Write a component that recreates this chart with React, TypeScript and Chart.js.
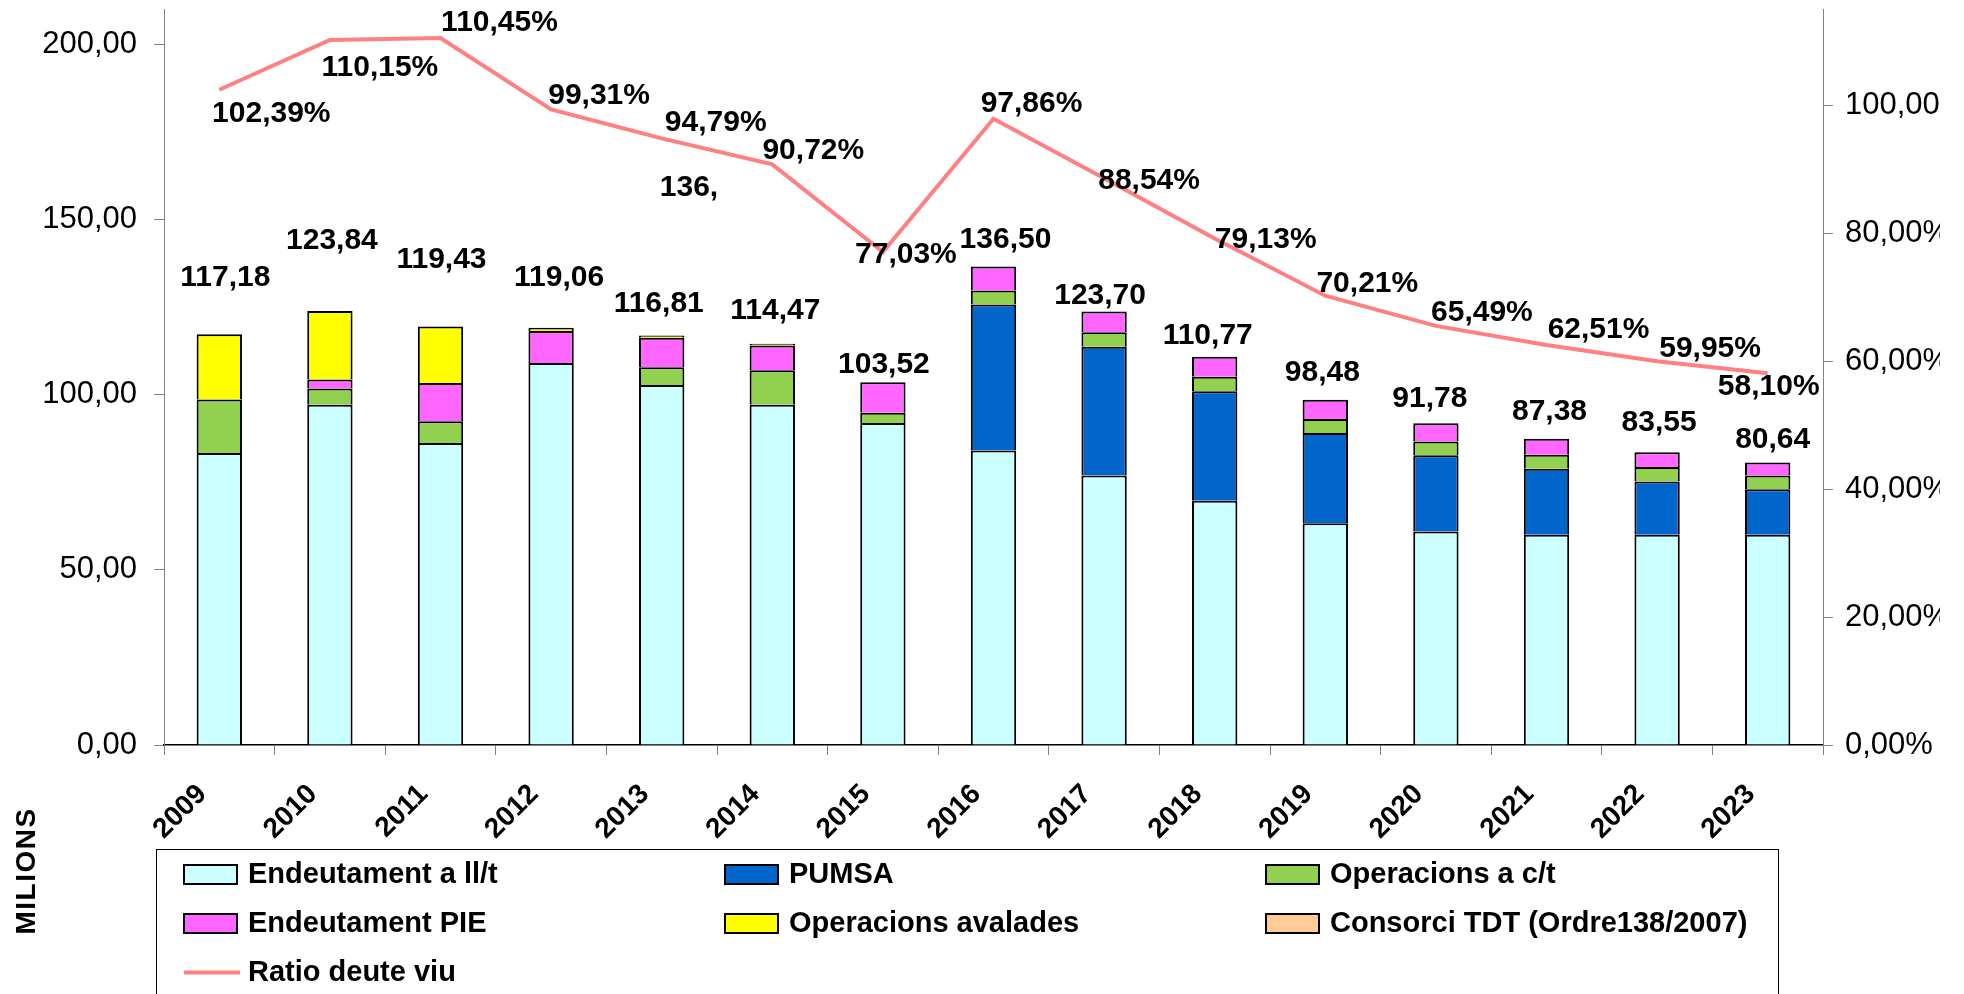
import React, { useEffect, useRef } from 'react';
import { Chart, registerables } from 'chart.js';

Chart.register(...registerables);

// ---------- data ----------
const years = ['2009', '2010', '2011', '2012', '2013', '2014', '2015', '2016', '2017', '2018', '2019', '2020', '2021', '2022', '2023'];
const endeutamentLlt = [83.3, 97.1, 86.2, 109.0, 102.7, 97.1, 91.9, 84.0, 76.9, 69.7, 63.3, 60.9, 60.0, 60.0, 60.0];
const pumsa = [0, 0, 0, 0, 0, 0, 0, 41.7, 36.7, 31.2, 25.7, 21.8, 18.8, 15.2, 13.0];
const operacionsCt = [15.3, 4.6, 6.2, 0, 5.1, 9.8, 2.9, 4.0, 4.2, 4.2, 4.0, 3.9, 4.0, 4.1, 3.9];
const endeutamentPie = [0, 2.6, 10.9, 9.1, 8.4, 7.1, 8.72, 6.8, 5.9, 5.67, 5.48, 5.18, 4.58, 4.25, 3.74];
const operacionsAvalades = [18.58, 19.54, 16.13, 0.96, 0.61, 0.47, 0, 0, 0, 0, 0, 0, 0, 0, 0];
const consorciTdt = [0, 0, 0, 0, 0, 0, 0, 0, 0, 0, 0, 0, 0, 0, 0];
const totals = [117.18, 123.84, 119.43, 119.06, 116.81, 114.47, 103.52, 136.5, 123.7, 110.77, 98.48, 91.78, 87.38, 83.55, 80.64];
const ratioDeuteViu = [102.39, 110.15, 110.45, 99.31, 94.79, 90.72, 77.03, 97.86, 88.54, 79.13, 70.21, 65.49, 62.51, 59.95, 58.1];
const leftTicks = [0, 50, 100, 150, 200];
const rightTicks = [0, 20, 40, 60, 80, 100];
const strayLabel = '136,';

// ---------- label placement (pixel offsets from the scale-derived anchors) ----------
const totalLabelDx = [6, 2, 1, 8, -3, 3, 1, 12, -4, -7, -3, -6, 3, 2, 5];
const totalLabelDy = [-57, -70, -67, -50, -32, -33, -17, -27, -16, -21, -27, -25, -27, -29, -23];
const ratioLabelDx = [52, 50, 59, 48, 54, 41, 23, 38, 45, 51, 42, 46, 52, 53, 1];
const ratioLabelDy = [24, 28, -15, -14, -16, -14, 3, -15, 2, 1, -12, -13, -15, -13, 14];

const FONT = '"Liberation Sans", Arial, Helvetica, sans-serif';
const fmt = (v: number) => v.toFixed(2).replace('.', ',');

const CANVAS_W = 1940;
const CANVAS_H = 994;

const stackSeries = [endeutamentLlt, pumsa, operacionsCt, endeutamentPie, operacionsAvalades, consorciTdt];

const customPlugin = {
  id: 'customDrawing',
  afterDatasetsDraw(chart: any) {
    const ctx = chart.ctx;
    const yScale = chart.scales.y;
    const xScale = chart.scales.x;
    const barMeta = chart.getDatasetMeta(0);
    const lineMeta = chart.getDatasetMeta(6);
    ctx.save();
    ctx.fillStyle = '#000';
    ctx.font = `bold 30px ${FONT}`;
    ctx.textAlign = 'center';
    ctx.textBaseline = 'middle';
    years.forEach((_, i) => {
      const sum = stackSeries.reduce((s, arr) => s + arr[i], 0);
      const x = barMeta.data[i].x + totalLabelDx[i];
      const y = yScale.getPixelForValue(sum) + totalLabelDy[i];
      ctx.fillText(fmt(totals[i]), x, y);
    });
    ratioDeuteViu.forEach((v, i) => {
      const p = lineMeta.data[i];
      ctx.fillText(fmt(v) + '%', p.x + ratioLabelDx[i], p.y + ratioLabelDy[i]);
    });
    // stray leftover label between 2013 and 2014
    const sx = (xScale.getPixelForValue(4) + xScale.getPixelForValue(5)) / 2 - 28;
    ctx.fillText(strayLabel, sx, yScale.getPixelForValue(159));
    ctx.restore();
  },
  afterDraw(chart: any) {
    const ctx = chart.ctx;
    const area = chart.chartArea;
    ctx.save();
    // axis title
    ctx.save();
    ctx.translate(27, 871);
    ctx.rotate(-Math.PI / 2);
    ctx.font = `bold 28px ${FONT}`;
    try { (ctx as any).letterSpacing = '1.5px'; } catch (e) {}
    ctx.textAlign = 'center';
    ctx.textBaseline = 'middle';
    ctx.fillStyle = '#000';
    ctx.fillText('MILIONS', 0, 0);
    ctx.restore();

    // legend box
    const boxLeft = area.left - 7.5;
    const boxTop = area.bottom + 104.5;
    const boxRight = area.right - 44.5;
    ctx.strokeStyle = '#000';
    ctx.lineWidth = 1;
    ctx.strokeRect(boxLeft, boxTop, boxRight - boxLeft, CANVAS_H + 20 - boxTop);

    const colX = [184, 725, 1266];
    const rowY = [874.5, 923.5, 972.5];
    ctx.font = `bold 29px ${FONT}`;
    ctx.textAlign = 'left';
    ctx.textBaseline = 'middle';
    chart.data.datasets.forEach((ds: any, idx: number) => {
      const col = idx % 3;
      const row = Math.floor(idx / 3);
      const x = colX[col];
      const y = rowY[row];
      if (ds.type === 'line') {
        ctx.strokeStyle = ds.borderColor;
        ctx.lineWidth = 4;
        ctx.beginPath();
        ctx.moveTo(x, y);
        ctx.lineTo(x + 56, y);
        ctx.stroke();
      } else {
        ctx.fillStyle = ds.backgroundColor;
        ctx.fillRect(x, y - 9.5, 53, 19);
        ctx.strokeStyle = '#000';
        ctx.lineWidth = 2;
        ctx.strokeRect(x, y - 9.5, 53, 19);
      }
      ctx.fillStyle = '#000';
      ctx.fillText(ds.label, x + 64, y);
    });
    ctx.restore();
  },
};

const noPad = (s: any) => {
  s.paddingTop = 0;
  s.paddingBottom = 0;
  s.paddingLeft = 0;
  s.paddingRight = 0;
};

export default function App() {
  const canvasRef = useRef<HTMLCanvasElement | null>(null);

  useEffect(() => {
    if (!canvasRef.current) return;
    const barCommon = {
      type: 'bar' as const,
      borderColor: '#000000',
      borderWidth: (c: any) => (c.raw === 0 ? 0 : 2),
      borderSkipped: 'start',
      inflateAmount: 0,
      barPercentage: 0.41,
      categoryPercentage: 1,
      stack: 'deute',
      yAxisID: 'y',
      order: 1,
    };
    const chart = new Chart(canvasRef.current, {
      type: 'bar',
      data: {
        labels: years,
        datasets: [
          { ...barCommon, label: 'Endeutament a ll/t', data: endeutamentLlt, backgroundColor: '#CCFFFF' },
          { ...barCommon, label: 'PUMSA', data: pumsa, backgroundColor: '#0066CC' },
          { ...barCommon, label: 'Operacions a c/t', data: operacionsCt, backgroundColor: '#92D050' },
          { ...barCommon, label: 'Endeutament PIE', data: endeutamentPie, backgroundColor: '#FF66FF' },
          { ...barCommon, label: 'Operacions avalades', data: operacionsAvalades, backgroundColor: '#FFFF00' },
          { ...barCommon, label: 'Consorci TDT (Ordre138/2007)', data: consorciTdt, backgroundColor: '#FFCC99' },
          {
            type: 'line' as const,
            label: 'Ratio deute viu',
            data: ratioDeuteViu,
            borderColor: '#FF8080',
            backgroundColor: '#FF8080',
            borderWidth: 4,
            pointRadius: 0,
            tension: 0,
            fill: false,
            yAxisID: 'y1',
            order: 0,
          },
        ] as any,
      },
      options: {
        animation: false,
        responsive: false,
        maintainAspectRatio: false,
        devicePixelRatio: 1,
        layout: { padding: { top: 9, left: 0, right: 0, bottom: 0 }, autoPadding: false } as any,
        plugins: {
          legend: { display: false },
          tooltip: { enabled: false },
        },
        scales: {
          x: {
            stacked: true,
            offset: true,
            grid: { display: true, drawOnChartArea: false, drawTicks: true, tickLength: 10, color: '#808080', offset: true },
            border: { display: true, color: '#000000', width: 1.5 },
            ticks: {
              font: { family: FONT, size: 28, weight: 'bold' },
              color: '#000',
              minRotation: 45,
              maxRotation: 45,
              autoSkip: false,
              padding: 23,
              labelOffset: -17,
            },
            afterFit: (s: any) => { s.height = 249; noPad(s); },
          },
          y: {
            stacked: true,
            position: 'left',
            min: 0,
            max: 210,
            grid: { drawOnChartArea: false, drawTicks: true, tickLength: 10, color: '#808080' },
            border: { display: true, color: '#808080', width: 1 },
            ticks: {
              stepSize: 50,
              font: { family: FONT, size: 31 },
              color: '#000',
              padding: 17,
              callback: (v: any) => fmt(Number(v)),
            },
            afterBuildTicks: (s: any) => { s.ticks = leftTicks.map((v) => ({ value: v })); },
            afterFit: (s: any) => { s.width = 164; noPad(s); },
          },
          y1: {
            position: 'right',
            min: 0,
            max: 115,
            grid: { drawOnChartArea: false, drawTicks: true, tickLength: 10, color: '#808080' },
            border: { display: true, color: '#808080', width: 1 },
            ticks: {
              stepSize: 20,
              font: { family: FONT, size: 31 },
              color: '#000',
              padding: 12,
              callback: (v: any) => fmt(Number(v)) + '%',
            },
            afterBuildTicks: (s: any) => { s.ticks = rightTicks.map((v) => ({ value: v })); },
            afterFit: (s: any) => { s.width = CANVAS_W - 1823; noPad(s); },
          },
        },
      } as any,
      plugins: [customPlugin],
    });
    return () => chart.destroy();
  }, []);

  return (
    <div style={{ position: 'fixed', left: 0, top: 0, width: 1964, height: 994, overflow: 'hidden', background: '#fff' }}>
      <canvas ref={canvasRef} width={CANVAS_W} height={CANVAS_H} style={{ display: 'block', width: CANVAS_W, height: CANVAS_H }} />
    </div>
  );
}
